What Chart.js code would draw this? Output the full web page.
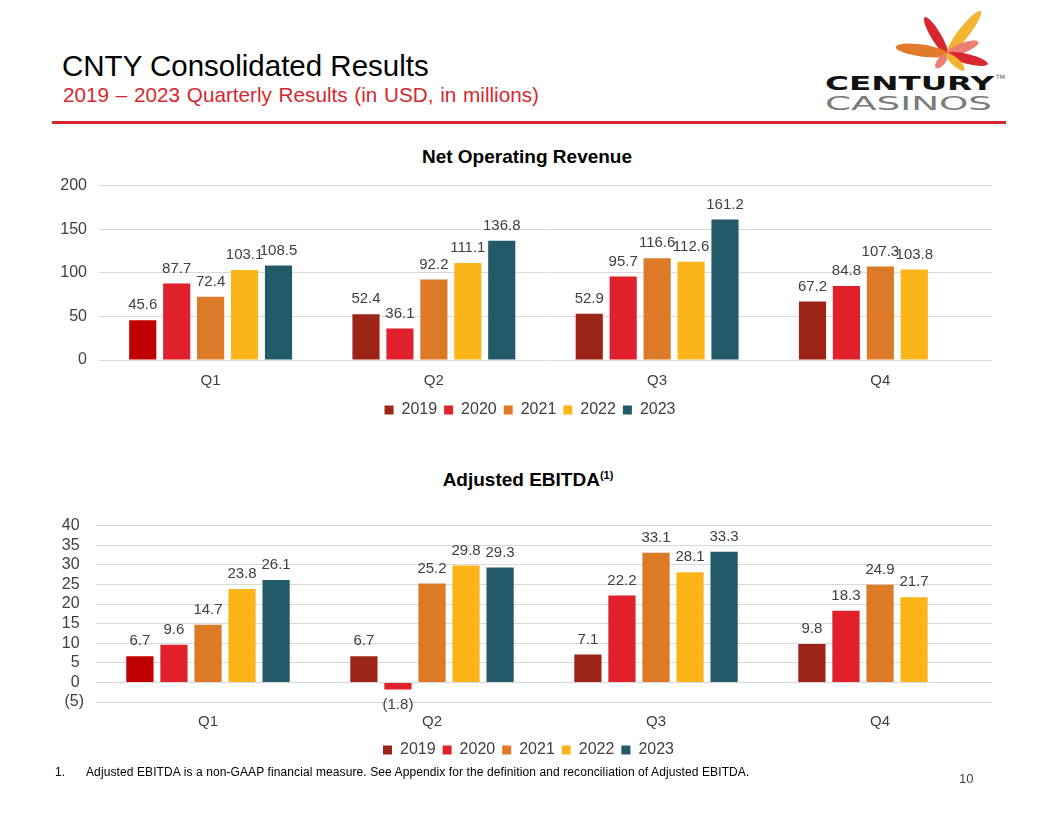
<!DOCTYPE html>
<html>
<head>
<meta charset="utf-8">
<script src="https://cdn.jsdelivr.net/npm/chart.js@4.4.1/dist/chart.umd.min.js"></script>
<style>
  html, body { margin: 0; padding: 0; background: #fff; }
  body { width: 1056px; height: 816px; position: relative; overflow: hidden;
         font-family: "Liberation Sans", Arial, sans-serif; color: #404040; }
  .abs { position: absolute; }
  #title { left: 62px; top: 49px; font-size: 29.5px; color: #000; white-space: nowrap; }
  #subtitle { left: 63px; top: 83px; font-size: 20.7px; color: #D7282F; white-space: nowrap; word-spacing: 1px; }
  #rule { left: 52px; top: 121px; width: 954px; height: 3px; background: #D7282F; }
  .chartTitle { width: 400px; text-align: center; font-size: 19px; font-weight: bold; color: #000; white-space: nowrap; }
  .chartTitle sup { font-size: 11px; vertical-align: 7px; }
  #footnote { left: 55px; top: 765px; font-size: 12px; color: #000; white-space: nowrap; letter-spacing: 0.1px; }
  #footnote span { display: inline-block; width: 31px; }
  #pageNo { left: 959px; top: 771px; font-size: 13px; color: #404040; }
</style>
</head>
<body>
<div id="title" class="abs">CNTY Consolidated Results</div>
<div id="subtitle" class="abs">2019 – 2023 Quarterly Results (in USD, in millions)</div>
<div id="rule" class="abs"></div>

<svg class="abs" style="left:800px;top:0" width="210" height="118" viewBox="800 0 210 118">
  <ellipse cx="936" cy="36" rx="22" ry="5" fill="#D7282F" transform="rotate(-121 936 36)"/>
  <ellipse cx="964" cy="32.5" rx="27" ry="5.5" fill="#F3B531" transform="rotate(-52 964 32.5)"/>
  <ellipse cx="921.5" cy="50.5" rx="26" ry="6" fill="#E27A2C" transform="rotate(8 921.5 50.5)"/>
  <ellipse cx="962.5" cy="48" rx="17" ry="5" fill="#EE7F74" transform="rotate(-21 962.5 48)"/>
  <ellipse cx="967.5" cy="59" rx="21" ry="5" fill="#D7282F" transform="rotate(14 967.5 59)"/>
  <ellipse cx="941.5" cy="61" rx="9" ry="4" fill="#EE7F74" transform="rotate(128 941.5 61)"/>
  <ellipse cx="955.5" cy="62" rx="12" ry="4" fill="#F3B531" transform="rotate(43 955.5 62)"/>
  <text x="825" y="90" font-family="DejaVu Sans" font-weight="bold" font-size="19" fill="#111"
        textLength="169" lengthAdjust="spacingAndGlyphs">CENTURY</text>
  <text x="996" y="79" font-family="DejaVu Sans" font-size="6" fill="#555">TM</text>
  <text x="825" y="110" font-family="DejaVu Sans" font-size="19" fill="#7a7a7a"
        textLength="167" lengthAdjust="spacingAndGlyphs">CASINOS</text>
</svg>

<div class="chartTitle abs" style="left:327px;top:146px">Net Operating Revenue</div>
<div class="abs" style="left:58px;top:164px;width:942px;height:264px"><canvas id="revenueChart"></canvas></div>

<div class="chartTitle abs" style="left:328px;top:469px">Adjusted EBITDA<sup>(1)</sup></div>
<div class="abs" style="left:55px;top:504px;width:945px;height:264px"><canvas id="ebitdaChart"></canvas></div>

<div id="footnote" class="abs"><span>1.</span>Adjusted EBITDA is a non-GAAP financial measure. See Appendix for the definition and reconciliation of Adjusted EBITDA.</div>
<div id="pageNo" class="abs">10</div>

<script>
var quarters = ['Q1', 'Q2', 'Q3', 'Q4'];
var years = ['2019', '2020', '2021', '2022', '2023'];

// net operating revenue, per year, Q1..Q4
var revenue2019 = [45.6, 52.4, 52.9, 67.2];
var revenue2020 = [87.7, 36.1, 95.7, 84.8];
var revenue2021 = [72.4, 92.2, 116.6, 107.3];
var revenue2022 = [103.1, 111.1, 112.6, 103.8];
var revenue2023 = [108.5, 136.8, 161.2, null];
var revenueTicks = [0, 50, 100, 150, 200];

// adjusted EBITDA, per year, Q1..Q4
var ebitda2019 = [6.7, 6.7, 7.1, 9.8];
var ebitda2020 = [9.6, -1.8, 22.2, 18.3];
var ebitda2021 = [14.7, 25.2, 33.1, 24.9];
var ebitda2022 = [23.8, 29.8, 28.1, 21.7];
var ebitda2023 = [26.1, 29.3, 33.3, null];
var ebitdaTicks = [-5, 0, 5, 10, 15, 20, 25, 30, 35, 40];

var yearColors = ['#9C2518', '#E0202A', '#DD7A28', '#FBB51B', '#235A6A'];
var firstBarColor = '#C00000';
var textColor = '#404040';
var fontFamily = '"Liberation Sans", Arial, sans-serif';

function fmt(v) {
    return v < 0 ? '(' + Math.abs(v).toFixed(1) + ')' : v.toFixed(1);
}

var valueLabels = {
    id: 'valueLabels',
    afterLayout: function(chart) {
        // nudge legend a bit right, like the slide
        chart.legend.left += 5;
        chart.legend.right += 5;
    },
    afterDatasetsDraw: function(chart) {
        var ctx = chart.ctx;
        ctx.save();
        ctx.font = '15px ' + fontFamily;
        ctx.fillStyle = textColor;
        ctx.textAlign = 'center';
        ctx.textBaseline = 'middle';
        chart.data.datasets.forEach(function(ds, i) {
            chart.getDatasetMeta(i).data.forEach(function(bar, j) {
                var v = ds.data[j];
                if (v === null || v === undefined) return;
                ctx.fillText(fmt(v), bar.x, v < 0 ? bar.y + 15 : bar.y - 15);
            });
        });
        ctx.restore();
    }
};

function makeDatasets(series) {
    return series.map(function(data, i) {
        var ds = {
            label: years[i],
            data: data,
            backgroundColor: yearColors[i],
            categoryPercentage: 0.76,
            barPercentage: 0.8
        };
        if (i === 0) {
            ds.backgroundColor = function(c) {
                return c.dataIndex === 0 ? firstBarColor : yearColors[0];
            };
        }
        return ds;
    });
}

function makeChart(id, series, ticks, yWidth, xHeight, xPad, tickFmt) {
    return new Chart(document.getElementById(id), {
        type: 'bar',
        data: { labels: quarters, datasets: makeDatasets(series) },
        options: {
            responsive: true,
            maintainAspectRatio: false,
            animation: false,
            layout: { padding: { top: 0, right: 8, left: 0, bottom: 0 } },
            scales: {
                x: {
                    grid: { display: false, drawTicks: false },
                    border: { display: false },
                    ticks: { color: textColor, font: { size: 15, family: fontFamily }, padding: xPad },
                    afterFit: function(s) { s.height = xHeight; }
                },
                y: {
                    min: ticks[0],
                    max: ticks[ticks.length - 1],
                    grid: { color: '#D9D9D9', drawTicks: false },
                    border: { display: false },
                    ticks: {
                        autoSkip: false,
                        color: textColor, font: { size: 16, family: fontFamily }, padding: 12,
                        callback: tickFmt
                    },
                    afterBuildTicks: function(s) {
                        s.ticks = ticks.map(function(v) { return { value: v }; });
                    },
                    afterFit: function(s) { s.width = yWidth; }
                }
            },
            plugins: {
                legend: {
                    position: 'bottom',
                    labels: {
                        boxWidth: 9, boxHeight: 9, padding: 7,
                        color: textColor, font: { size: 16, family: fontFamily },
                        generateLabels: function(chart) {
                            var items = Chart.defaults.plugins.legend.labels.generateLabels(chart);
                            items.forEach(function(it, i) {
                                it.fillStyle = yearColors[i];
                                it.strokeStyle = yearColors[i];
                                it.lineWidth = 0;
                            });
                            return items;
                        }
                    }
                },
                tooltip: { enabled: false }
            }
        },
        plugins: [valueLabels]
    });
}

makeChart('revenueChart',
    [revenue2019, revenue2020, revenue2021, revenue2022, revenue2023],
    revenueTicks, 41, 35, 12,
    function(v) { return v; });

makeChart('ebitdaChart',
    [ebitda2019, ebitda2020, ebitda2021, ebitda2022, ebitda2023],
    ebitdaTicks, 41, 33, 11,
    function(v) { return v < 0 ? '(' + Math.abs(v) + ')' : v + ' '; });
</script>
</body>
</html>
